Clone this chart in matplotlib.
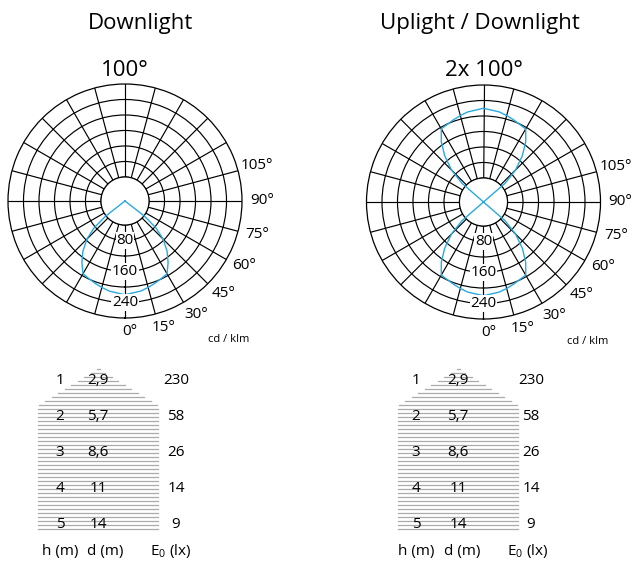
import numpy as np
import matplotlib
matplotlib.use('Agg')
import matplotlib.pyplot as plt

plt.rcParams['font.family'] = ['Open Sans', 'DejaVu Sans']
plt.rcParams['mathtext.fontset'] = 'custom'
plt.rcParams['mathtext.rm'] = 'Open Sans'

# --- data -------------------------------------------------------------
titles = ['Downlight', 'Uplight / Downlight']
beam_labels = ['100°', '2x 100°']

# luminous intensity (cd/klm) from nadir, one half of the symmetric curve
angles_deg = [0, 10, 15, 20, 25, 30, 35, 40, 45, 49, 52, 56, 90]
down_cd = [220, 214, 209, 204, 199, 195, 172, 147, 117, 84, 42, 0, 0]
updown_cd = [220, 214, 209, 204, 199, 196, 168, 134, 95, 52, 0, 0, 0]

ring_values = [40, 80, 120, 160, 200, 240]
ring_labels = [80, 160, 240]
angle_labels = [0, 15, 30, 45, 60, 75, 90, 105]

heights = [1, 2, 3, 4, 5]              # h (m)
diameters = [2.9, 5.7, 8.6, 11, 14]    # d (m)
illuminance = [230, 58, 26, 14, 9]     # E0 (lx)

RMIN, RMAX = -22, 280
BLUE = '#29a9e1'
W, H = 634, 562

fig = plt.figure(figsize=(W / 100, H / 100), dpi=100)

# pixel overlay for titles and tables
ov = fig.add_axes([0, 0, 1, 1])
ov.set_xlim(0, W)
ov.set_ylim(H, 0)
ov.axis('off')


def polar_panel(cx, cy, radius, lobes):
    rect = [(cx - radius) / W, 1 - (cy + radius) / H, 2 * radius / W, 2 * radius / H]
    ax = fig.add_axes(rect, projection='polar')
    ax.set_theta_zero_location('S')
    ax.set_ylim(RMIN, RMAX)
    ax.set_yticks(ring_values)
    ax.set_yticklabels([])
    ax.set_xticks(np.deg2rad(np.arange(0, 360, 15)))
    ax.set_xticklabels([])
    ax.set_axisbelow(True)
    ax.grid(True, color='black', lw=0.85)
    ax.spines['polar'].set_linewidth(0.9)
    ax.patch.set_alpha(0)

    th = np.linspace(0, 2 * np.pi, 300)
    ax.fill(th, np.full_like(th, ring_values[0]), facecolor='white',
            edgecolor='black', lw=0.85, zorder=1)

    ang = np.array(angles_deg, dtype=float)
    for cd, offset in lobes:
        cd = np.array(cd, dtype=float)
        theta = np.deg2rad(np.concatenate([-ang[::-1], ang]) + offset)
        r = np.concatenate([cd[::-1], cd])
        r = np.where(r > 0, r, RMIN)   # zero intensity drawn at the pole
        ax.plot(theta, r, color=BLUE, lw=1.0, zorder=3)

    for v in ring_labels:
        ax.text(0, v, str(v), ha='center', va='center', fontsize=11, zorder=5,
                bbox=dict(boxstyle='square,pad=0.05', fc='white', ec='none'))
    for a in angle_labels:
        ax.annotate(f'{a}°', xy=(np.deg2rad(a), 318), xytext=(5, 1),
                    textcoords='offset pixels', ha='center', va='center',
                    fontsize=11, annotation_clip=False)
    ov.text(cx + 104, cy + 139, 'cd / klm', ha='center', va='center', fontsize=8)
    return ax


def table(cx_h, cx_d, cx_e, lab_d, lab_e):
    apex_y, slope, half = 368, 1.62, 60
    ys = np.arange(apex_y + 0.5, 531, 4.0)
    for y in ys:
        hw = min(half, max(1.5, slope * (y - apex_y)))
        ov.plot([cx_d - hw, cx_d + hw], [y, y], color='#ababab', lw=0.9, zorder=1)
    for i, (h, d, e) in enumerate(zip(heights, diameters, illuminance)):
        y = 380.5 + 36 * i
        ov.text(cx_h, y, str(h), ha='center', va='center', fontsize=11, zorder=2)
        ov.text(cx_d, y, f'{d:g}'.replace('.', ','), ha='center', va='center',
                fontsize=11, zorder=2)
        ov.text(cx_e, y, str(e), ha='center', va='center', fontsize=11, zorder=2)
    ov.text(cx_h, 551, 'h (m)', ha='center', va='center', fontsize=11)
    ov.text(lab_d, 551, 'd (m)', ha='center', va='center', fontsize=11)
    ov.text(lab_e, 551, r'E$_\mathrm{0}$ (lx)', ha='center', va='center', fontsize=11)


# left panel
ov.text(141, 23, titles[0], ha='center', va='center', fontsize=16)
ov.text(125, 70, beam_labels[0], ha='center', va='center', fontsize=16)
polar_panel(125, 201, 117, [(down_cd, 0)])
table(60, 98, 176, 105, 171)

# right panel
ov.text(480, 23, titles[1], ha='center', va='center', fontsize=16)
ov.text(484, 70, beam_labels[1], ha='center', va='center', fontsize=16)
polar_panel(483.5, 202, 117, [(updown_cd, 0), (updown_cd, 180)])
table(416, 458, 531, 462, 528)

fig.savefig('out.png', dpi=100)
